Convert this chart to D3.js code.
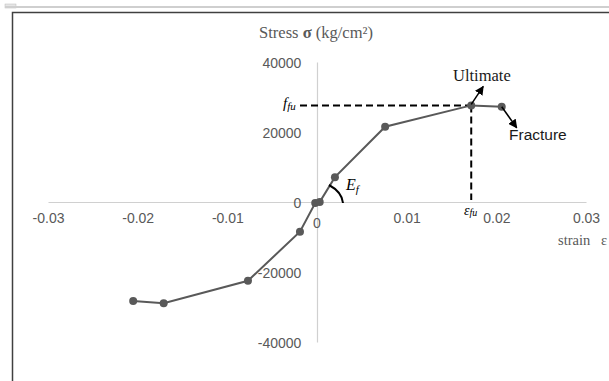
<!DOCTYPE html>
<html><head><meta charset="utf-8">
<script src="https://cdn.jsdelivr.net/npm/d3@7/dist/d3.min.js"></script>
<style>body{margin:0;background:#fff}</style></head>
<body><svg id="c" width="609" height="381"></svg>
<script>
const strain = [-0.0205, -0.0171, -0.0077, -0.0019, -0.0002, 0.0003, 0.0020, 0.0076, 0.0172, 0.0206];
const stress = [-28300, -28900, -22500, -8500, -300, 0, 7100, 21500, 27600, 27200];
const xTicks = [-0.03, -0.02, -0.01, 0, 0.01, 0.02, 0.03];
const xTickLabels = ["-0.03", "-0.02", "-0.01", "0", "0.01", "0.02", "0.03"];
const yTicks = [-40000, -20000, 0, 20000, 40000];
const yTickLabels = ["-40000", "-20000", "0", "20000", "40000"];
const ultimateIdx = 8, fractureIdx = 9;

const svg = d3.select("#c");
const x = d3.scaleLinear().domain([-0.03, 0.03]).range([48, 586]);
const y = d3.scaleLinear().domain([-40000, 40000]).range([342, 62]);
const gray = "#595959";
const serif = "Liberation Serif, Times New Roman, serif";
const sans = "Liberation Sans, Arial, sans-serif";

// frame
svg.append("rect").attr("x",5).attr("y",4).attr("width",11).attr("height",4).attr("fill","#e6e6e6").attr("stroke","#bbb").attr("stroke-width",0.5);
svg.append("line").attr("x1",5).attr("x2",609).attr("y1",7).attr("y2",7).attr("stroke","#cfcfcf").attr("stroke-width",2);
svg.append("rect").attr("x",12.5).attr("y",12.5).attr("width",620).attr("height",400).attr("fill","none").attr("stroke","#404040").attr("stroke-width",1.5);

// axes
const xa = svg.append("g").attr("transform",`translate(0,${y(0)})`)
  .call(d3.axisBottom(x).tickValues(xTicks).tickSize(0).tickFormat((d,i)=> d===0 ? "" : xTickLabels[i]));
const ya = svg.append("g").attr("transform",`translate(${x(0)},0)`)
  .call(d3.axisLeft(y).tickValues(yTicks).tickSize(0).tickFormat((d,i)=>yTickLabels[i]));
[xa, ya].forEach(g=>{
  g.select(".domain").attr("stroke","#d0d0d0").attr("stroke-width",1.2);
  g.selectAll("text").attr("fill",gray).attr("font-family",sans).attr("font-size",14);
});
xa.selectAll("text").attr("dy","1.3em");
ya.selectAll("text").attr("dx","-0.9em").attr("dy","0.36em");
svg.append("text").attr("x",x(0)).attr("y",y(0)+26).attr("text-anchor","middle").attr("fill",gray)
  .attr("font-family",sans).attr("font-size",14).text(xTickLabels[3]);

// title & axis label
const title = svg.append("text").attr("x",316).attr("y",38).attr("text-anchor","middle").attr("fill",gray)
  .attr("font-family",serif).attr("font-size",16.5);
title.append("tspan").text("Stress ");
title.append("tspan").attr("font-weight","bold").text("σ");
title.append("tspan").text(" (kg/cm²)");
svg.append("text").attr("x",558).attr("y",245).attr("fill",gray)
  .attr("font-family",serif).attr("font-size",14.5).attr("xml:space","preserve").text("strain   ε");

// dashed guides
const ux = x(strain[ultimateIdx]), uy = y(stress[ultimateIdx]);
svg.append("line").attr("x1",300).attr("x2",ux).attr("y1",uy).attr("y2",uy).attr("stroke","#000").attr("stroke-width",2).attr("stroke-dasharray","7,4");
svg.append("line").attr("x1",ux).attr("x2",ux).attr("y1",uy).attr("y2",y(0)-2).attr("stroke","#000").attr("stroke-width",2).attr("stroke-dasharray","7,4");

// line + markers
const pts = strain.map((s,i)=>[s, stress[i]]);
svg.append("path").datum(pts).attr("fill","none").attr("stroke",gray).attr("stroke-width",2)
  .attr("d", d3.line().x(d=>x(d[0])).y(d=>y(d[1])));
svg.selectAll("circle.pt").data(pts).join("circle").attr("class","pt")
  .attr("cx",d=>x(d[0])).attr("cy",d=>y(d[1])).attr("r",4).attr("fill",gray);

// arrows
const defs = svg.append("defs");
defs.append("marker").attr("id","ah").attr("viewBox","0 0 10 10").attr("refX",9).attr("refY",5)
  .attr("markerWidth",6).attr("markerHeight",6).attr("orient","auto")
  .append("path").attr("d","M0,0L10,5L0,10z").attr("fill","#000");
svg.append("line").attr("x1",ux).attr("y1",uy-1).attr("x2",ux+12).attr("y2",uy-19).attr("stroke","#000").attr("stroke-width",1.5).attr("marker-end","url(#ah)");
const fx = x(strain[fractureIdx]), fy = y(stress[fractureIdx]);
svg.append("line").attr("x1",fx).attr("y1",fy).attr("x2",fx+15).attr("y2",fy+21).attr("stroke","#000").attr("stroke-width",1.5).attr("marker-end","url(#ah)");

// annotations
svg.append("text").attr("x",453).attr("y",81).attr("fill","#1a1a1a").attr("font-family",serif).attr("font-size",16.5).text("Ultimate");
svg.append("text").attr("x",509).attr("y",140).attr("fill","#1a1a1a").attr("font-family",sans).attr("font-size",15.5).text("Fracture");
const ff = svg.append("text").attr("x",283).attr("y",108).attr("fill","#000").attr("font-family",serif).attr("font-style","italic").attr("font-size",15);
ff.append("tspan").text("f");
ff.append("tspan").attr("font-size",11).attr("dy",2).text("fu");
const ef = svg.append("text").attr("x",464).attr("y",215).attr("fill","#000").attr("font-family",serif).attr("font-style","italic").attr("font-size",14);
ef.append("tspan").text("ε");
ef.append("tspan").attr("font-size",10).attr("dy",1).text("fu");
const Ef = svg.append("text").attr("x",346).attr("y",190).attr("fill","#000").attr("font-family",serif).attr("font-style","italic").attr("font-size",16);
Ef.append("tspan").text("E");
Ef.append("tspan").attr("font-size",11).attr("dy",3).text("f");
svg.append("path").attr("d","M329,185 Q342,192 343,203").attr("fill","none").attr("stroke","#000").attr("stroke-width",2);
</script></body></html>
